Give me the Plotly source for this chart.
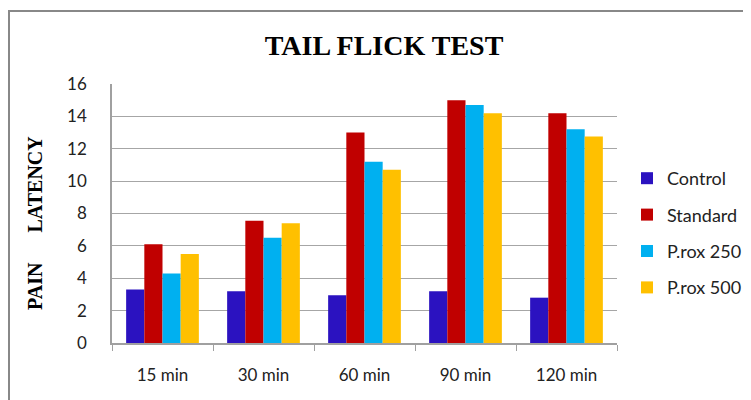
import plotly.graph_objects as go

categories = ["15 min", "30 min", "60 min", "90 min", "120 min"]
control = [3.3, 3.2, 2.95, 3.2, 2.8]
standard = [6.1, 7.55, 13.0, 15.0, 14.2]
prox250 = [4.3, 6.5, 11.2, 14.7, 13.2]
prox500 = [5.5, 7.4, 10.7, 14.2, 12.75]
series_names = ["Control", "Standard", "P.rox 250", "P.rox 500"]
colors = ["#2B12C0", "#C00000", "#00B0F0", "#FFC000"]
y_ticks = [0, 2, 4, 6, 8, 10, 12, 14, 16]

fig = go.Figure()
for i, (name, vals) in enumerate(zip(series_names, [control, standard, prox250, prox500])):
    fig.add_trace(go.Bar(x=categories, y=vals, name=name, marker_color=colors[i],
                         marker_line_width=0, legendgroup=name))

OFF = 8  # page body margin
W, H = 751 - OFF, 400 - OFF
L, T = 112 - OFF, 84 - OFF
pw, ph = 505, 259
R, B = W - L - pw, H - T - ph

def px2paper_x(x):
    return (x - OFF - L) / pw

def px2paper_y(y):
    return (T + ph - (y - OFF)) / ph

fig.update_layout(
    width=W, height=H,
    margin=dict(l=L, r=R, t=T, b=B, autoexpand=False),
    paper_bgcolor="white", plot_bgcolor="white",
    barmode="group", bargap=0.28, bargroupgap=0,
    title=dict(text="<b>TAIL FLICK TEST</b>", x=(384 - OFF) / W, xanchor="center",
               y=1 - (45 - OFF) / H, yanchor="middle", yref="container",
               font=dict(family="Liberation Serif", size=28, color="black")),
    font=dict(family="Lato", size=17, color="#222222"),
    legend=dict(x=px2paper_x(627), xanchor="left", y=px2paper_y(233), yanchor="middle",
                traceorder="grouped", tracegroupgap=10,
                font=dict(family="Lato", size=18, color="#222222"),
                bgcolor="rgba(0,0,0,0)"),
    xaxis=dict(type="category", showline=True, linecolor="#A0A0A0", linewidth=1.5,
               ticks="outside", tickson="boundaries", ticklen=6, tickcolor="#A0A0A0",
               ticklabelstandoff=16, showgrid=False,
               tickfont=dict(family="Lato", size=17, color="#222222")),
    yaxis=dict(range=[0, 16], tickvals=y_ticks, showline=True, linecolor="#A0A0A0",
               linewidth=1.5, gridcolor="#A6A6A6", gridwidth=1.2, ticks="",
               ticklabelstandoff=20, zeroline=False,
               tickfont=dict(family="Lato", size=17, color="#222222")),
    annotations=[dict(text="<b>PAIN\u00a0\u00a0\u00a0\u00a0\u00a0\u00a0LATENCY</b>",
                      xref="paper", yref="paper", x=px2paper_x(35), y=px2paper_y(223),
                      xanchor="center", yanchor="middle", textangle=-90, showarrow=False,
                      font=dict(family="Liberation Serif", size=20, color="black"))],
    shapes=[dict(type="rect", xref="paper", yref="paper",
                 x0=px2paper_x(9), x1=px2paper_x(770), y0=px2paper_y(420), y1=px2paper_y(11),
                 line=dict(color="#888888", width=2), layer="below")],
)

fig.write_html("out.html")
